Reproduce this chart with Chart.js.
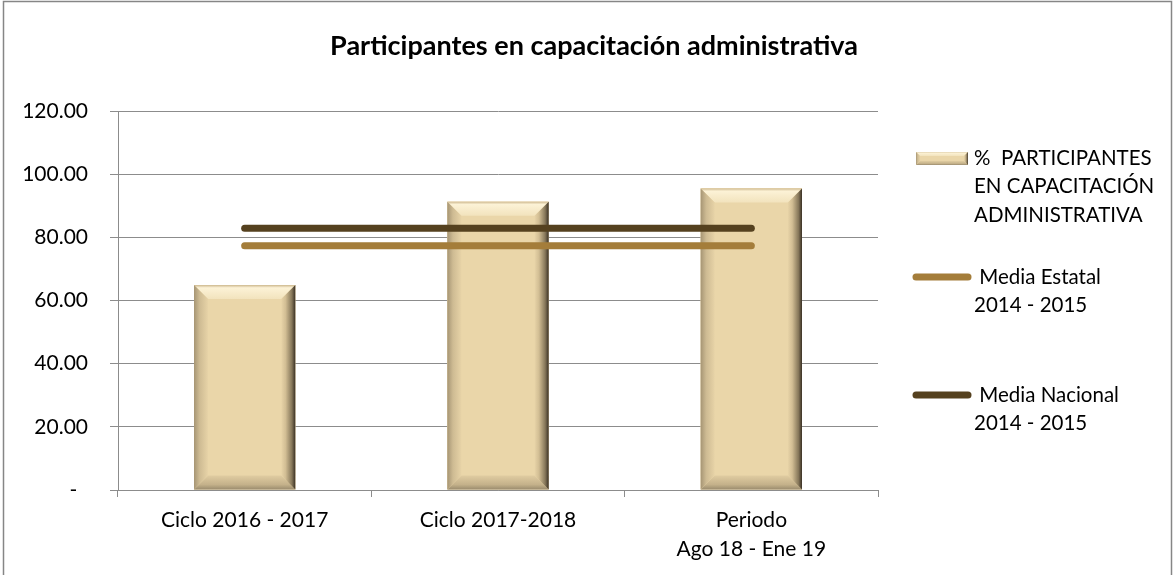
<!DOCTYPE html>
<html>
<head>
<meta charset="utf-8">
<title>Participantes en capacitación administrativa</title>
<script src="https://cdn.jsdelivr.net/npm/chart.js@4.4.1/dist/chart.umd.min.js"></script>
<style>
  html, body { margin: 0; padding: 0; background: #fff; }
  #wrap { width: 1175px; height: 575px; }
</style>
</head>
<body>
<div id="wrap"><canvas id="chart" width="1175" height="575"></canvas></div>
<script>
// ===============================
// DATA
// ===============================

const categories = [
  "Ciclo 2016 - 2017",
  "Ciclo 2017-2018",
  ["Periodo", "Ago 18 - Ene 19"]
];

const participantes = [64.9, 91.3, 95.5];
const mediaEstatal = [77.3, 77.3, 77.3];
const mediaNacional = [82.9, 82.9, 82.9];

const yTicks = [0, 20, 40, 60, 80, 100, 120];

const chartTitle = "Participantes en capacitación administrativa";

const legendLines = [
  ["%  PARTICIPANTES", "EN CAPACITACIÓN", "ADMINISTRATIVA"],
  [" Media Estatal", "2014 - 2015"],
  [" Media Nacional", "2014 - 2015"]
];


// ===============================
// STYLE
// ===============================

const FONT = "Lato, 'Liberation Sans', sans-serif";
const GRID = "#8c8c8c";
const BAR_FACE = "#EAD6A9";
const ESTATAL = "#A47D3A";
const NACIONAL = "#55411F";


// ===============================
// BEVELLED BARS
// ===============================

function grad(ctx, x0, y0, x1, y1, stops) {
  const g = ctx.createLinearGradient(x0, y0, x1, y1);
  stops.forEach(s => g.addColorStop(s[0], s[1]));
  return g;
}

function poly(ctx, pts, fill) {
  ctx.beginPath();
  ctx.moveTo(pts[0][0], pts[0][1]);
  for (let i = 1; i < pts.length; i++) ctx.lineTo(pts[i][0], pts[i][1]);
  ctx.closePath();
  ctx.fillStyle = fill;
  ctx.fill();
}

function drawBevel(ctx, l, t, r, b, s) {
  ctx.save();
  ctx.fillStyle = BAR_FACE;
  ctx.fillRect(l, t, r - l, b - t);

  // top
  poly(ctx, [[l, t], [r, t], [r - s, t + s], [l + s, t + s]],
    grad(ctx, 0, t, 0, t + s, [[0, "#cdb88e"], [0.2, "#fcf2d6"], [1, "#f2e3bd"]]));
  // bottom
  poly(ctx, [[l, b], [r, b], [r - s, b - s], [l + s, b - s]],
    grad(ctx, 0, b, 0, b - s, [[0, "#9a8b6d"], [0.35, "#c4b18a"], [1, "#e0cca1"]]));
  // left
  poly(ctx, [[l, t], [l + s, t + s], [l + s, b - s], [l, b]],
    grad(ctx, l, 0, l + s, 0, [[0, "#a69574"], [0.4, "#cebb93"], [1, "#e7d3a7"]]));
  // right
  poly(ctx, [[r, t], [r - s, t + s], [r - s, b - s], [r, b]],
    grad(ctx, r, 0, r - s, 0, [[0, "#3a3125"], [0.25, "#86775a"], [0.7, "#d2be94"], [1, "#e7d3a7"]]));
  ctx.restore();
}

const bevelPlugin = {
  id: "bevel",
  afterDatasetDraw(chart, args) {
    if (args.index !== 0) return;
    const ctx = chart.ctx;
    ctx.save();
    const area = chart.chartArea;
    ctx.beginPath();
    ctx.rect(area.left, area.top - 2, area.right - area.left, area.bottom - area.top + 2);
    ctx.clip();
    args.meta.data.forEach(bar => {
      const w = bar.width;
      drawBevel(ctx, bar.x - w / 2, bar.y, bar.x + w / 2, bar.base, 14);
    });
    ctx.restore();
  }
};


// ===============================
// TITLE, LEGEND + FRAME
// ===============================

const decorPlugin = {
  id: "decor",
  afterDraw(chart) {
    const ctx = chart.ctx;
    ctx.save();

    // outer frame
    ctx.strokeStyle = "#868686";
    ctx.lineWidth = 1.5;
    ctx.strokeRect(3.5, 1.5, 1168, 600);

    // title, centred on the whole canvas
    ctx.fillStyle = "#000";
    ctx.textBaseline = "middle";
    ctx.textAlign = "center";
    ctx.font = "bold 27px " + FONT;
    ctx.fillText(chartTitle, 594, 46);

    ctx.font = "20.5px " + FONT;
    ctx.textAlign = "left";

    // bar entry
    drawBevel(ctx, 916, 152, 968, 165, 4);
    legendLines[0].forEach((txt, i) => ctx.fillText(txt, 974, 158 + i * 28.5));

    // line entries
    const lineItems = [
      { color: ESTATAL, y: 277 },
      { color: NACIONAL, y: 395 }
    ];
    lineItems.forEach((item, k) => {
      ctx.strokeStyle = item.color;
      ctx.lineWidth = 7;
      ctx.lineCap = "round";
      ctx.beginPath();
      ctx.moveTo(916, item.y);
      ctx.lineTo(968, item.y);
      ctx.stroke();
      legendLines[k + 1].forEach((txt, i) => ctx.fillText(txt, 974, item.y + i * 28.5));
    });

    ctx.restore();
  }
};


// ===============================
// CHART
// ===============================

new Chart(document.getElementById("chart"), {
  type: "bar",
  data: {
    labels: categories,
    datasets: [
      {
        type: "bar",
        label: "%  PARTICIPANTES EN CAPACITACIÓN ADMINISTRATIVA",
        data: participantes,
        backgroundColor: BAR_FACE,
        borderWidth: 0,
        categoryPercentage: 1,
        barPercentage: 0.4,
        order: 3
      },
      {
        type: "line",
        label: "Media Estatal 2014 - 2015",
        data: mediaEstatal,
        borderColor: ESTATAL,
        borderWidth: 7,
        borderCapStyle: "round",
        pointRadius: 0,
        fill: false,
        order: 2
      },
      {
        type: "line",
        label: "Media Nacional 2014 - 2015",
        data: mediaNacional,
        borderColor: NACIONAL,
        borderWidth: 7,
        borderCapStyle: "round",
        pointRadius: 0,
        fill: false,
        order: 1
      }
    ]
  },
  options: {
    responsive: false,
    animation: false,
    devicePixelRatio: 1,
    layout: { padding: { left: 0, right: 297, top: 111, bottom: 0 } },
    plugins: {
      legend: { display: false },
      tooltip: { enabled: false },
      title: { display: false }
    },
    scales: {
      x: {
        offset: true,
        grid: {
          offset: true,
          drawOnChartArea: false,
          drawTicks: true,
          tickLength: 7,
          color: GRID,
          lineWidth: 1
        },
        border: { color: GRID, width: 1 },
        ticks: {
          color: "#000",
          padding: 9,
          maxRotation: 0,
          autoSkip: false,
          font: { family: FONT, size: 21, lineHeight: 1.38 }
        },
        afterFit(scale) { scale.height = 85; }
      },
      y: {
        min: 0,
        max: 120,
        afterBuildTicks(scale) {
          scale.ticks = yTicks.map(v => ({ value: v }));
        },
        grid: {
          color: GRID,
          lineWidth: 1,
          tickLength: 8
        },
        border: { color: GRID, width: 1 },
        ticks: {
          color: "#000",
          padding: 22,
          font: { family: FONT, size: 21 },
          callback: v => (v === 0 ? "-  " : v.toFixed(2))
        },
        afterFit(scale) { scale.width = 118; }
      }
    }
  },
  plugins: [bevelPlugin, decorPlugin]
});
</script>
</body>
</html>
